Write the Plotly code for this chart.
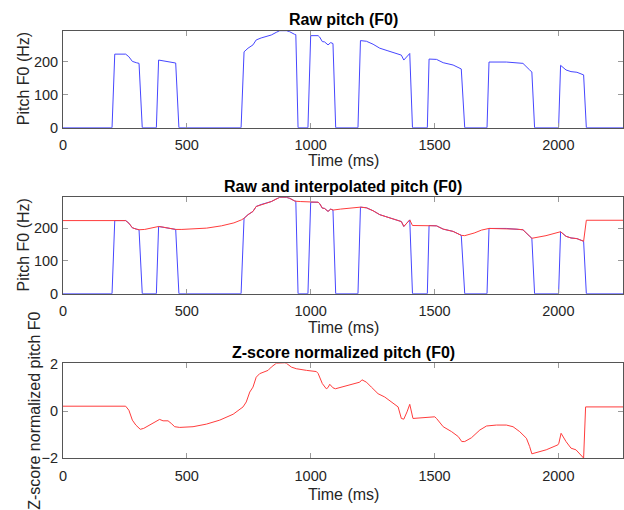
import plotly.graph_objects as go

# ---------------- data ----------------
raw_t = [0, 198, 209, 253, 266, 280, 296, 307, 320, 377, 386, 404, 424, 455, 468,
         719, 731, 747, 767, 780, 800, 821, 841, 861, 875, 902, 915, 935, 940, 949,
         989, 1000, 1030, 1036, 1047, 1056, 1070, 1081, 1090, 1101,
         1191, 1201, 1225, 1252, 1279, 1312, 1352, 1366, 1376, 1400, 1411,
         1471, 1478, 1508, 1535, 1575, 1608, 1622,
         1712, 1720, 1790, 1830, 1857, 1884, 1893, 1904,
         2001, 2009, 2031, 2051, 2075, 2102, 2113, 2262]
raw_f0 = [0, 0, 223, 223, 215, 201, 197, 195, 0, 0, 205, 203, 200, 196, 0,
          0, 230, 241, 251, 266, 272, 276, 281, 289, 294, 294, 291, 283, 282, 0,
          0, 279, 279, 275, 261, 260, 251, 258, 255, 0,
          0, 264, 262, 253, 241, 233, 225, 220, 205, 225, 0,
          0, 208, 207, 197, 190, 178, 0,
          0, 199, 199, 197, 195, 175, 169, 0,
          0, 189, 175, 170, 168, 160, 0, 0]

interp_t = [0, 209, 253, 266, 280, 296, 307, 330, 350, 370, 386, 404, 424, 455, 480,
            520, 580, 640, 690, 720, 731, 747, 767, 780, 800, 821, 841, 861, 875,
            902, 915, 935, 940, 960, 1000, 1030, 1036, 1047, 1056, 1070, 1081, 1090,
            1120, 1160, 1201, 1225, 1252, 1279, 1312, 1352, 1366, 1376, 1400, 1411,
            1440, 1478, 1508, 1535, 1575, 1608, 1622, 1660, 1690, 1720, 1790, 1830,
            1857, 1884, 1893, 1950, 2001, 2009, 2031, 2051, 2075, 2102, 2113, 2262]
interp_f0 = [223, 223, 223, 215, 201, 197, 195, 196, 199, 203, 205, 203, 200, 196, 196,
             197, 200, 207, 216, 225, 230, 241, 251, 266, 272, 276, 281, 289, 294,
             294, 291, 283, 282, 281, 279, 279, 275, 261, 260, 251, 258, 255,
             258, 261, 264, 262, 253, 241, 233, 225, 220, 205, 225, 208,
             208, 208, 207, 197, 190, 178, 177, 185, 194, 199, 199, 197,
             195, 175, 169, 177, 186, 189, 175, 170, 168, 160, 224, 224]

z_t = [0, 253, 266, 280, 294, 303, 312, 326, 350, 374, 390, 404, 424, 437, 451, 471,
       525, 579, 633, 687, 727, 740, 754, 767, 780, 794, 814, 828, 841, 861, 895,
       902, 922, 942, 983, 1003, 1023, 1030, 1047, 1063, 1070, 1077, 1090, 1100,
       1198, 1207, 1225, 1245, 1272, 1299, 1326, 1353, 1366, 1376, 1389, 1400,
       1413, 1454, 1501, 1508, 1535, 1569, 1596, 1610, 1622, 1649, 1683, 1710,
       1750, 1790, 1817, 1844, 1871, 1884, 1893, 1951, 1998, 2002, 2011, 2031,
       2051, 2071, 2084, 2102, 2110, 2262]
z_val = [0.21, 0.21, 0.04, -0.38, -0.59, -0.69, -0.77, -0.73, -0.59, -0.45, -0.35, -0.41, -0.41, -0.52, -0.66, -0.69,
         -0.66, -0.55, -0.38, -0.13, 0.18, 0.39, 0.81, 1.02, 1.44, 1.59, 1.66, 1.73, 1.87, 2.03, 2.05,
         2.03, 1.87, 1.80, 1.73, 1.70, 1.68, 1.60, 1.17, 0.95, 1.00, 1.14, 0.99, 0.95,
         1.23, 1.33, 1.23, 1.02, 0.74, 0.60, 0.39, 0.18, -0.31, -0.34, -0.03, 0.29,
         -0.31, -0.28, -0.24, -0.31, -0.66, -0.87, -1.08, -1.29, -1.29, -1.13, -0.80, -0.63,
         -0.59, -0.59, -0.66, -0.87, -1.15, -1.50, -1.81, -1.64, -1.43, -1.36, -0.94, -1.29,
         -1.57, -1.64, -1.78, -1.99, 0.18, 0.18]

titles = ["Raw pitch (F0)", "Raw and interpolated pitch (F0)", "Z-score normalized pitch (F0)"]
x_label = "Time (ms)"
y_labels = ["Pitch F0 (Hz)", "Pitch F0 (Hz)", "Z-score normalized pitch F0"]
x_ticks = [0, 500, 1000, 1500, 2000]
y_ticks_hz = [0, 100, 200]
y_ticks_z = [-2, 0, 2]

# ---------------- layout helpers ----------------
W, H = 624, 510
ML, MR = 63, 1
FONT = "Liberation Sans, Arial, Helvetica, sans-serif"
AXC = "#555555"
TKC = "#9a9a9a"
TXTC = "#262626"
BLUE = "rgb(70,70,255)"
RED = "rgb(255,60,60)"

def ydom(top_px, bot_px):
    return [1 - bot_px / H, 1 - top_px / H]

panels = [(30.7, 127.7), (197.3, 293.7), (363.3, 458.3)]

fig = go.Figure()
fig.add_trace(go.Scatter(x=raw_t, y=raw_f0, mode="lines", line=dict(color=BLUE, width=1),
                         xaxis="x", yaxis="y", showlegend=False, name="raw"))
fig.add_trace(go.Scatter(x=raw_t, y=raw_f0, mode="lines", line=dict(color=BLUE, width=1),
                         xaxis="x2", yaxis="y2", showlegend=False, name="raw"))
fig.add_trace(go.Scatter(x=interp_t, y=interp_f0, mode="lines", line=dict(color=RED, width=1),
                         xaxis="x2", yaxis="y2", showlegend=False, name="interpolated"))
fig.add_trace(go.Scatter(x=z_t, y=z_val, mode="lines", line=dict(color=RED, width=1),
                         xaxis="x3", yaxis="y3", showlegend=False, name="z-score"))

common_ax = dict(showline=True, linecolor=AXC, linewidth=1, mirror="ticks", ticks="inside",
                 ticklen=5, tickcolor=TKC, showgrid=False, zeroline=False, automargin=False,
                 tickfont=dict(family=FONT, size=14.5, color=TXTC))

xranges = [0, 2261]
yranges = [[0, 294], [0, 294], [-2.0, 2.03]]
ytickss = [y_ticks_hz, y_ticks_hz, y_ticks_z]
layout = {}
for i, (top, bot) in enumerate(panels):
    sx = "" if i == 0 else str(i + 1)
    layout["xaxis" + sx] = dict(common_ax, domain=[0, 1], range=xranges, tickvals=x_ticks,
                                anchor="y" + sx, ticklabelstandoff=4)
    layout["yaxis" + sx] = dict(common_ax, domain=ydom(top, bot), range=yranges[i],
                                tickvals=ytickss[i], anchor="x" + sx, ticklabelstandoff=1)

fig.update_layout(width=W, height=H, margin=dict(l=ML, r=MR, t=0, b=0, pad=0, autoexpand=False),
                  paper_bgcolor="white", plot_bgcolor="white", **layout)

ann = []
title_y = [20, 186.5, 352]
xlab_y = [160, 327, 494]
ylab_x = [23, 23, 35]
for i, (top, bot) in enumerate(panels):
    ann.append(dict(text="<b>%s</b>" % titles[i], xref="paper", yref="paper", x=0.5, y=1 - title_y[i] / H,
                    xanchor="center", yanchor="middle", showarrow=False,
                    font=dict(family=FONT, size=16, color="black")))
    ann.append(dict(text=x_label, xref="paper", yref="paper", x=0.5, y=1 - xlab_y[i] / H,
                    xanchor="center", yanchor="middle", showarrow=False,
                    font=dict(family=FONT, size=16, color=TXTC)))
    ann.append(dict(text=y_labels[i], xref="paper", yref="paper", x=(ylab_x[i] - ML) / (W - ML - MR),
                    y=1 - (top + bot) / 2 / H, xanchor="center", yanchor="middle", textangle=-90,
                    showarrow=False, font=dict(family=FONT, size=16, color=TXTC)))
fig.update_layout(annotations=ann)

fig.write_html("out.html", config={"displayModeBar": False},
               post_script="document.body.style.margin='0';document.body.style.overflow='hidden';")
